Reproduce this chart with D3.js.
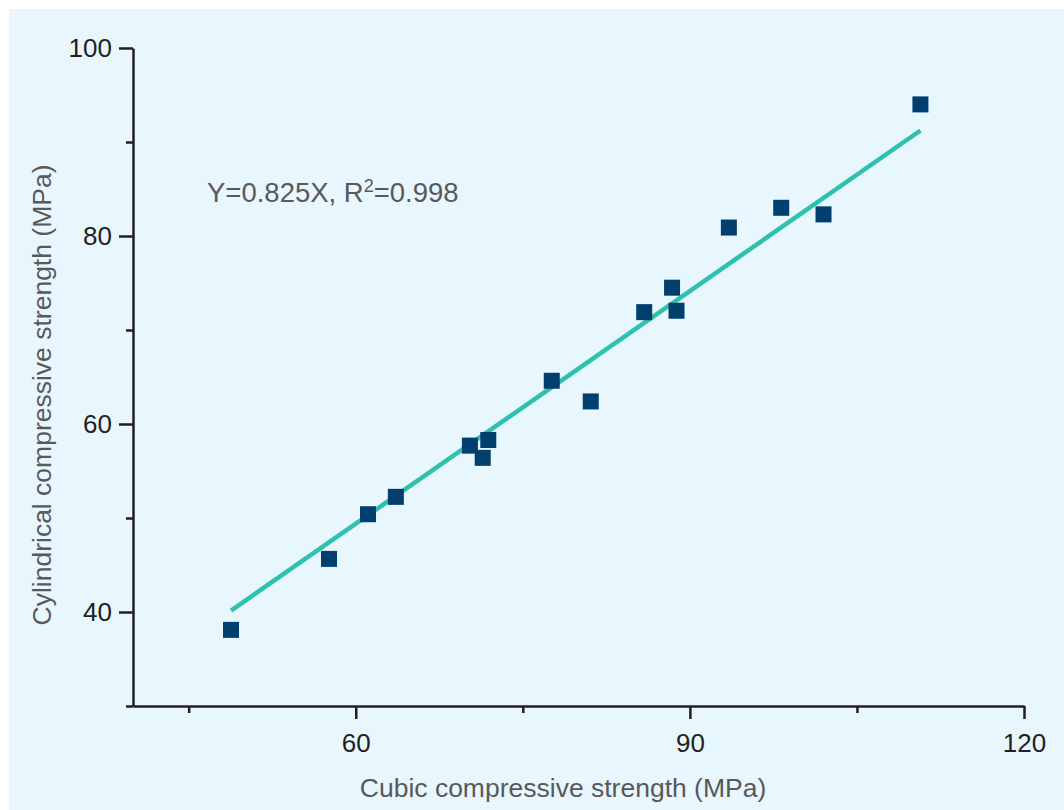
<html>
<script src="https://d3js.org/d3.v7.min.js"></script>
<style>
  body { margin: 0; background: #ffffff; }
  text { font-family: "Liberation Sans", Arial, sans-serif; }
</style>
<body></body>
<script>
  // data
  var cubic = [48.8, 57.6, 61.1, 63.6, 70.25, 71.4, 71.9, 77.6, 81.1, 85.9, 88.4, 88.8, 93.5, 98.2, 102.0, 110.7];
  var cylinder = [38.1, 45.65, 50.4, 52.25, 57.7, 56.4, 58.3, 64.6, 62.4, 71.9, 74.5, 72.05, 80.9, 83.0, 82.3, 94.0];
  var slope = 0.825;
  var xMajor = [60, 90, 120];
  var xMinor = [45, 75, 105];
  var yMajor = [40, 60, 80, 100];
  var yMinor = [30, 50, 70, 90];

  var W = 1064, H = 810;
  var margin = { top: 48, right: 40, bottom: 104, left: 133 };

  var svg = d3.select("body").append("svg")
    .attr("width", W)
    .attr("height", H);

  // panel background
  svg.append("rect")
    .attr("x", 9).attr("y", 9)
    .attr("width", W - 9).attr("height", H - 9)
    .attr("fill", "#e8f6fe");

  var x = d3.scaleLinear().domain([40, 120]).range([margin.left, 1024]);
  var y = d3.scaleLinear().domain([30, 100]).range([706, margin.top]);

  var axisColor = "#231f20";

  // x axis
  var gx = svg.append("g").attr("transform", "translate(0,706)");
  gx.call(d3.axisBottom(x).tickValues(xMajor).tickSize(13).tickPadding(15).tickSizeOuter(0));
  gx.append("g").call(d3.axisBottom(x).tickValues(xMinor).tickSize(7).tickFormat("").tickSizeOuter(0))
    .select(".domain").remove();

  // y axis
  var gy = svg.append("g").attr("transform", "translate(" + margin.left + ",0)");
  gy.call(d3.axisLeft(y).tickValues(yMajor).tickSize(14).tickPadding(7).tickSizeOuter(0));
  gy.append("g").call(d3.axisLeft(y).tickValues(yMinor).tickSize(7).tickFormat("").tickSizeOuter(0))
    .select(".domain").remove();

  svg.selectAll(".domain, .tick line")
    .attr("stroke", axisColor)
    .attr("stroke-width", 2.5);
  svg.selectAll(".tick text")
    .attr("fill", "#231f20")
    .style("font-size", "26px")
    .style("font-family", "'Liberation Sans', Arial, sans-serif");

  // fitted line Y = 0.825X across the data range
  var ext = d3.extent(cubic);
  svg.append("line")
    .attr("x1", x(ext[0])).attr("y1", y(ext[0] * slope) + 1)
    .attr("x2", x(ext[1])).attr("y2", y(ext[1] * slope) + 1)
    .attr("stroke", "#2ec2ae")
    .attr("stroke-width", 4.5);

  // data points
  var pts = cubic.map(function (d, i) { return { x: d, y: cylinder[i] }; });
  var s = 16;
  svg.append("g").selectAll("rect")
    .data(pts)
    .enter()
    .append("rect")
    .attr("x", function (d) { return x(d.x) - s / 2; })
    .attr("y", function (d) { return y(d.y) - s / 2; })
    .attr("width", s).attr("height", s)
    .attr("fill", "#003f6e");

  // equation
  var eq = svg.append("text")
    .attr("x", 207).attr("y", 202)
    .attr("fill", "#58595b")
    .style("font-size", "27.5px");
  eq.append("tspan").text("Y=0.825X, R");
  eq.append("tspan").attr("dy", -10).style("font-size", "18px").text("2");
  eq.append("tspan").attr("dy", 10).text("=0.998");

  // axis titles
  svg.append("text")
    .attr("x", 563).attr("y", 797)
    .attr("text-anchor", "middle")
    .attr("fill", "#58595b")
    .style("font-size", "26.5px")
    .text("Cubic compressive strength (MPa)");

  svg.append("text")
    .attr("transform", "translate(51,395) rotate(-90)")
    .attr("text-anchor", "middle")
    .attr("fill", "#58595b")
    .style("font-size", "26.5px")
    .text("Cylindrical compressive strength (MPa)");
</script>
</html>
